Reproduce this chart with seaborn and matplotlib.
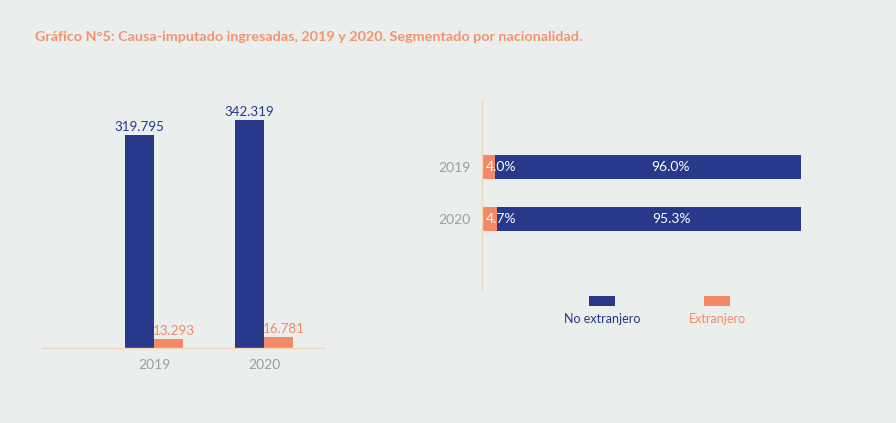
import pandas as pd
import seaborn as sns
import matplotlib.pyplot as plt
from matplotlib.patches import Rectangle

years = ['2019', '2020']
no_extranjero = [319795, 342319]
extranjero = [13293, 16781]
pct_no_ext = [96.0, 95.3]
pct_ext = [4.0, 4.7]
series = ['No extranjero', 'Extranjero']

navy = '#28388A'
orange = '#F4896A'
gray = '#9A9EA6'
bg = '#EAEEEC'
axis_col = '#F6D4B6'

sns.set_theme(style='white')
plt.rcParams['font.family'] = ['Lato', 'DejaVu Sans']

fig = plt.figure(figsize=(8.96, 4.23), dpi=100, facecolor=bg)
fig.text(35 / 896, 1 - 37 / 423, 'Gráfico N°5: Causa-imputado ingresadas, 2019 y 2020. Segmentado por nacionalidad.',
         color='#F3946F', fontsize=10.35, fontweight='bold', va='center', ha='left')

def fmt(v):
    return f'{int(round(v)):,}'.replace(',', '.')

# --- left: counts
df = pd.DataFrame({
    'year': years * 2,
    'tipo': [series[0]] * 2 + [series[1]] * 2,
    'valor': no_extranjero + extranjero,
})
ax1 = fig.add_axes([42 / 896, 75 / 423, 282 / 896, 248 / 423])
ax1.set_facecolor(bg)
sns.barplot(data=df, x='year', y='valor', hue='tipo', palette=[navy, orange],
            width=0.527, ax=ax1, legend=False, saturation=1, linewidth=0)
ax1.set_xlim(-1.018, 1.545)
ax1.set_ylim(0, 342319 * 248 / 228)
for cont, col, dx in zip(ax1.containers, [navy, orange], [0, 4]):
    for p, v in zip(cont.patches, cont.datavalues):
        ax1.annotate(fmt(v), (p.get_x() + p.get_width() / 2, p.get_height()),
                     xytext=(dx, 1.5), textcoords='offset points',
                     ha='center', va='bottom', color=col, fontsize=9.6)
ax1.set_xlabel('')
ax1.set_ylabel('')
ax1.set_yticks([])
ax1.tick_params(axis='x', colors=gray, labelsize=10, length=0, pad=8)
for s in ['top', 'right', 'left']:
    ax1.spines[s].set_visible(False)
ax1.spines['bottom'].set_color(axis_col)
ax1.spines['bottom'].set_linewidth(1)

# --- right: percentages
pdf = pd.DataFrame({'year': years, 'total': [a + b for a, b in zip(pct_no_ext, pct_ext)],
                    'ext': pct_ext})
ax2 = fig.add_axes([482 / 896, 134 / 423, 319 / 896, 189 / 423])
ax2.set_facecolor(bg)
sns.barplot(data=pdf, y='year', x='total', color=navy, width=0.46, ax=ax2, saturation=1, linewidth=0)
sns.barplot(data=pdf, y='year', x='ext', color=orange, width=0.46, ax=ax2, saturation=1, linewidth=0)
ax2.set_xlim(0, 100)
ax2.set_ylim(1 + 1.35, -1.29)
for i, (e, n) in enumerate(zip(pct_ext, pct_no_ext)):
    ax2.text(1.2, i, f'{e:.1f}%', color='white', fontsize=10, va='center', ha='left')
    ax2.text(e + n * 0.575, i, f'{n:.1f}%', color='white', fontsize=10, va='center', ha='center')
ax2.set_xlabel('')
ax2.set_ylabel('')
ax2.set_xticks([])
ax2.tick_params(axis='y', colors=gray, labelsize=10, length=0, pad=8)
for s in ['top', 'right', 'bottom']:
    ax2.spines[s].set_visible(False)
ax2.spines['left'].set_color(axis_col)
ax2.spines['left'].set_linewidth(1)

# legend: swatch above label
for cx, lab, col in [(602, series[0], navy), (717, series[1], orange)]:
    fig.add_artist(Rectangle(((cx - 13) / 896, 1 - 306 / 423), 26 / 896, 10 / 423,
                             transform=fig.transFigure, color=col, linewidth=0))
    fig.text(cx / 896, 1 - 319 / 423, lab, color=col, fontsize=9, ha='center', va='center')

fig.savefig('out.png', dpi=100, facecolor=bg)
